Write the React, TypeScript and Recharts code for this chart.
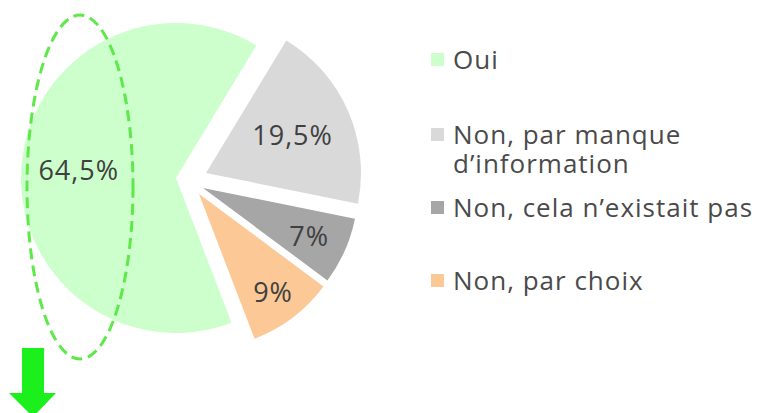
import { PieChart, Pie, Cell } from 'recharts'

const categories = [
  'Oui',
  'Non, par manque d’information',
  'Non, cela n’existait pas',
  'Non, par choix',
]
const shares = [64.5, 19.5, 7, 9]
const colors = ['#ccffcc', '#d9d9d9', '#a6a6a6', '#fbc896']

const data = categories.map((name, i) => ({ name, value: shares[i] }))

// slice pull-out (dx, dy) and where the % label sits, as a fraction of the radius
const pull = [
  [0, 0],
  [30, -5],
  [27, 10],
  [23, 16],
]
const labelRadius = [0.63, 0.61, 0.75, 0.79]

const CX = 176
const CY = 178
const R = 155
const RAD = Math.PI / 180

const fmt = (v: number) => `${String(v).replace('.', ',')}%`

function renderLabel(props: any, k: number) {
  if (props.index !== k) return null
  const r = props.outerRadius * labelRadius[k]
  const x = props.cx + r * Math.cos(-props.midAngle * RAD)
  const y = props.cy + r * Math.sin(-props.midAngle * RAD)
  return (
    <text
      x={x}
      y={y}
      textAnchor="middle"
      dominantBaseline="central"
      fill="#404040"
      fontSize={27}
      letterSpacing={1}
      fontFamily="'Open Sans', sans-serif"
    >
      {fmt(props.value)}
    </text>
  )
}

const legendTop = [45, 120, 193, 266]

export default function App() {
  return (
    <div
      style={{
        position: 'absolute',
        left: 0,
        top: 0,
        width: 758,
        height: 413,
        background: '#fff',
        overflow: 'hidden',
        fontFamily: "'Open Sans', sans-serif",
      }}
    >
      <PieChart width={758} height={413} margin={{ top: 0, right: 0, bottom: 0, left: 0 }}>
        {data.map((_, k) => (
          <Pie
            key={k}
            data={data}
            dataKey="value"
            nameKey="name"
            cx={CX + pull[k][0]}
            cy={CY + pull[k][1]}
            outerRadius={R}
            startAngle={291}
            endAngle={-69}
            stroke="none"
            labelLine={false}
            label={(p: any) => renderLabel(p, k)}
            isAnimationActive={false}
          >
            {data.map((d, j) => (
              <Cell key={d.name} fill={j === k ? colors[j] : 'transparent'} />
            ))}
          </Pie>
        ))}
      </PieChart>

      {/* dashed ellipse + arrow drawn over the chart */}
      <svg
        width={758}
        height={413}
        style={{ position: 'absolute', left: 0, top: 0, pointerEvents: 'none' }}
      >
        <ellipse
          cx={80}
          cy={187}
          rx={53}
          ry={172}
          fill="none"
          stroke="#5fe84a"
          strokeWidth={3}
          strokeDasharray="11 6"
        />
        <polygon points="22,348 44,348 44,393 56,393 33,417 9,393 22,393" fill="#1cf01c" />
      </svg>

      {categories.map((name, i) => (
        <div
          key={name}
          style={{
            position: 'absolute',
            left: 431,
            top: legendTop[i],
            display: 'flex',
            alignItems: 'flex-start',
          }}
        >
          <div
            style={{
              width: 13,
              height: 13,
              background: colors[i],
              marginTop: 8,
              marginRight: 9,
              flexShrink: 0,
            }}
          />
          <div
            style={{
              width: 310,
              fontSize: 26,
              lineHeight: '29px',
              letterSpacing: 1,
              color: '#4a4a4a',
            }}
          >
            {name}
          </div>
        </div>
      ))}
    </div>
  )
}
